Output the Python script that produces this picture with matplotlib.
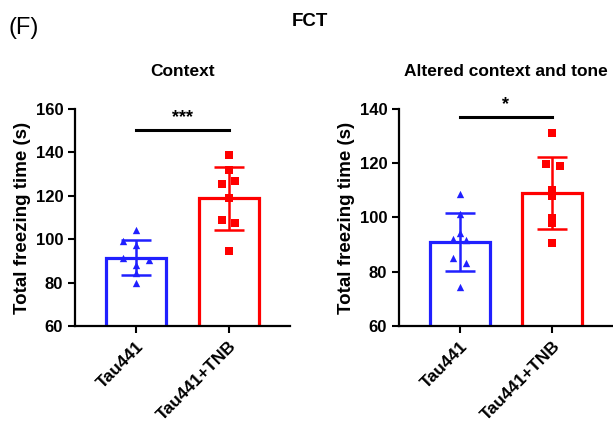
import numpy as np
import matplotlib
matplotlib.use('Agg')
import matplotlib.pyplot as plt

plt.rcParams['font.family'] = ['Liberation Sans', 'DejaVu Sans']
plt.rcParams['font.weight'] = 'bold'

groups = ['Tau441', 'Tau441+TNB']

# Context panel
ctx_mean = [91.5, 118.8]
ctx_sd = [8.0, 14.7]
ctx_tau = [104.4, 99.0, 97.5, 91.4, 90.3, 88.3, 84.5, 79.9]
ctx_tnb = [138.9, 132.0, 125.5, 127.0, 119.0, 109.0, 107.4, 94.4]

# Altered context and tone panel
alt_mean = [91.0, 109.0]
alt_sd = [10.7, 13.3]
alt_tau = [108.5, 101.2, 94.3, 92.2, 91.6, 85.2, 83.2, 74.4]
alt_tnb = [131.0, 119.7, 119.0, 110.3, 107.9, 99.9, 97.8, 90.6]

# horizontal scatter of the dots
ctx_tau_dx = [0, -0.14, 0, -0.14, 0.14, 0, 0, 0]
ctx_tnb_dx = [0, 0, -0.07, 0.065, 0, -0.07, 0.065, 0]
alt_tau_dx = [0, 0, 0, -0.07, 0.07, -0.07, 0.07, 0]
alt_tnb_dx = [0, -0.065, 0.08, 0, 0, 0, 0, 0]

BLUE = '#2020ff'
RED = '#ff0000'

fig = plt.figure(figsize=(6.13, 4.25), dpi=100)
ax1 = fig.add_axes([75/613, 1-326/425, 215/613, 217/425])
ax2 = fig.add_axes([399/613, 1-326/425, 214/613, 217/425])


def panel(ax, means, sds, pts, dxs, ylim, yticks, title, sig_y, stars):
    x = np.arange(len(groups))
    colors = [BLUE, RED]
    markers = ['^', 's']
    ax.bar(x, means, width=0.65, color='white', edgecolor=colors,
           linewidth=2.3, zorder=1)
    for i in range(len(groups)):
        ax.scatter(x[i] + np.array(dxs[i]), pts[i], marker=markers[i],
                   s=28, color=colors[i], zorder=3, linewidths=0)
        ax.errorbar(x[i], means[i], yerr=sds[i], color=colors[i],
                    capsize=11, elinewidth=1.8, capthick=1.8, zorder=2)
    ax.plot([x[0], x[1]], [sig_y, sig_y], color='black', lw=2.2,
            clip_on=False)
    ax.text((x[0] + x[1]) / 2, sig_y + (ylim[1] - ylim[0]) * 0.02, stars,
            ha='center', va='bottom', fontsize=13, fontweight='bold')
    ax.set_xlim(-0.66, 1.66)
    ax.set_ylim(*ylim)
    ax.set_yticks(yticks)
    ax.set_xticks(x)
    ax.set_xticklabels(groups, rotation=45, ha='right',
                       rotation_mode='anchor', fontsize=12.5)
    ax.tick_params(axis='y', labelsize=12)
    ax.tick_params(axis='both', width=1.5, length=5)
    ax.tick_params(axis='x', pad=4)
    for s in ['top', 'right']:
        ax.spines[s].set_visible(False)
    for s in ['left', 'bottom']:
        ax.spines[s].set_linewidth(1.6)
    ax.set_ylabel('Total freezing time (s)', fontsize=13.5,
                  fontweight='bold', labelpad=3)
    ax.set_title(title, fontsize=12.5, fontweight='bold', pad=24)


panel(ax1, ctx_mean, ctx_sd, [ctx_tau, ctx_tnb], [ctx_tau_dx, ctx_tnb_dx],
      (60, 160), [60, 80, 100, 120, 140, 160], 'Context', 150.3, '***')
panel(ax2, alt_mean, alt_sd, [alt_tau, alt_tnb], [alt_tau_dx, alt_tnb_dx],
      (60, 140), [60, 80, 100, 120, 140], 'Altered context and tone',
      137.0, '*')

fig.text(8/613, 1-28/425, '(F)', fontsize=17, fontweight='normal',
         va='center', ha='left')
fig.text(310/613, 1-22/425, 'FCT', fontsize=13.5, fontweight='bold',
         va='center', ha='center')

fig.savefig('out.png', dpi=100)
